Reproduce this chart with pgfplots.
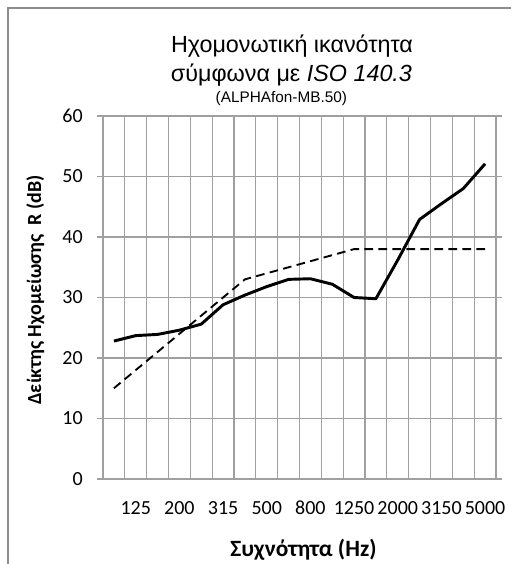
\documentclass[border=0pt]{standalone}
\usepackage{fontspec}
\setmainfont{Carlito}
\newfontfamily\arialfont{Liberation Sans}
\usepackage{pgfplots}
\pgfplotsset{compat=1.18}
\definecolor{gridc}{HTML}{A0A0A0}
\definecolor{borderc}{HTML}{8C8C8C}
\begin{document}
\begin{tikzpicture}
\useasboundingbox (0pt,0pt) rectangle (383.25pt,-423pt);
\draw[borderc, line width=0.8pt] (6pt,-423pt) -- (6pt,-6pt) -- (383.25pt,-6pt);
\begin{axis}[
  at={(77.25pt,-359.25pt)}, anchor=south west,
  scale only axis, width=294.75pt, height=272.25pt,
  xmin=-0.5, xmax=17.5, ymin=0, ymax=60,
  ytick={0,10,...,60},
  xtick={1,3,...,17},
  xticklabels={125,200,315,500,800,1250,2000,3150,5000},
  minor xtick={-0.5,0.5,...,17.5},
  xminorgrids, ymajorgrids,
  grid style={gridc, line width=0.8pt},
  minor grid style={gridc, line width=0.8pt},
  axis line style={gridc, line width=0.8pt},
  tick align=outside,
  xtick style={draw=none},
  minor x tick style={gridc, line width=0.8pt},
  y tick style={gridc, line width=0.8pt},
  major tick length=4.5pt, minor tick length=4.5pt,
  /pgf/number format/assume math mode=true,
  tick label style={font=\fontsize{15}{18}\selectfont},
  xticklabel style={anchor=base, inner sep=0pt, yshift=-22pt},
  yticklabel style={anchor=east, inner sep=0pt, xshift=-10.5pt},
  clip=false,
]
\addplot[black, line width=2.2pt, line join=round] coordinates {
 (0,22.8) (1,23.7) (2,23.9) (3,24.6) (4,25.6) (5,28.8) (6,30.4) (7,31.8) (8,33.0)
 (9,33.1) (10,32.2) (11,30.0) (12,29.8) (13,36.2) (14,42.9) (15,45.5) (16,48.0) (17,52.1)
};
\addplot[black, line width=1.4pt, dash pattern=on 6.5pt off 4pt] coordinates {
 (0,15) (1,18) (2,21) (3,24) (4,27) (5,30) (6,33) (7,34) (8,35)
 (9,36) (10,37) (11,38) (12,38) (13,38) (14,38) (15,38) (16,38) (17,38)
};
\end{axis}
\node[anchor=base, inner sep=0pt, font=\arialfont\fontsize{17.5}{20}\selectfont] at (219pt,-39pt) {Ηχομονωτική ικανότητα};
\node[anchor=base, inner sep=0pt, font=\arialfont\fontsize{17.5}{20}\selectfont] at (218.6pt,-61pt) {σύμφωνα με \textit{ISO 140.3}};
\node[anchor=base, inner sep=0pt, font=\arialfont\fontsize{11.5}{14}\selectfont] at (211pt,-76.5pt) {(ALPHAfon-MB.50)};
\node[rotate=90, inner sep=0pt, font=\bfseries\fontsize{15}{18}\selectfont] at (26.5pt,-217.5pt) {Δείκτης Ηχομείωσης\ \ R (dB)};
\node[anchor=base, inner sep=0pt, font=\bfseries\fontsize{17.5}{20}\selectfont] at (227.6pt,-417pt) {Συχνότητα (Hz)};
\end{tikzpicture}
\end{document}
